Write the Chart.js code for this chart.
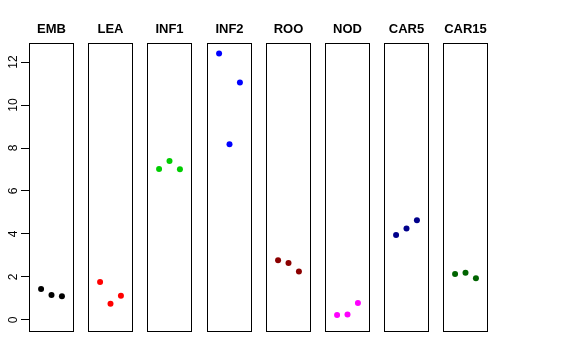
<!DOCTYPE html>
<html>
<head>
<meta charset="utf-8">
<script src="https://cdn.jsdelivr.net/npm/chart.js@4.4.0/dist/chart.umd.min.js"></script>
<style>
html,body{margin:0;padding:0;background:#fff;}
#wrap{position:relative;width:576px;height:360px;overflow:hidden;background:#fff;}
#wrap canvas{position:absolute;top:0;}
</style>
</head>
<body>
<div id="wrap"></div>
<script>
// ---- data ----
const categories = ["EMB", "LEA", "INF1", "INF2", "ROO", "NOD", "CAR5", "CAR15"];
const xPositions = [1, 2, 3];
const valuesEMB   = [1.44, 1.16, 1.10];
const valuesLEA   = [1.77, 0.76, 1.13];
const valuesINF1  = [7.02, 7.40, 7.01];
const valuesINF2  = [12.39, 8.17, 11.05];
const valuesROO   = [2.78, 2.65, 2.25];
const valuesNOD   = [0.23, 0.25, 0.79];
const valuesCAR5  = [3.95, 4.25, 4.64];
const valuesCAR15 = [2.14, 2.20, 1.94];
const yTickValues = [0, 2, 4, 6, 8, 10, 12];
const seriesColors = ["#000000", "#FF0000", "#00CD00", "#0000FF", "#8B0000", "#FF00FF", "#00008B", "#006400"];

const allValues = [valuesEMB, valuesLEA, valuesINF1, valuesINF2, valuesROO, valuesNOD, valuesCAR5, valuesCAR15];

const FONT = "'Liberation Sans', Arial, Helvetica, sans-serif";
const Y_MIN = -0.512, Y_MAX = 12.884;
const X_MIN = -0.16, X_MAX = 4.16;

const framePlugin = {
  id: 'frame',
  afterDatasetsDraw(chart) {
    const a = chart.chartArea;
    const ctx = chart.ctx;
    ctx.save();
    ctx.strokeStyle = '#000';
    ctx.lineWidth = 1;
    ctx.strokeRect(Math.round(a.left) + 0.5, Math.round(a.top) + 0.5,
                   Math.round(a.right - a.left) - 1, Math.round(a.bottom - a.top));
    ctx.restore();
  }
};

const wrap = document.getElementById('wrap');
const AXIS_W = 29, PANEL_W = 45, STEP = 59.2, PANEL0 = 29;

categories.forEach((cat, i) => {
  const first = i === 0;
  const canvas = document.createElement('canvas');
  const w = first ? (AXIS_W + PANEL_W) : PANEL_W;
  const left = first ? 0 : Math.round(PANEL0 + STEP * i);
  canvas.width = w; canvas.height = 360;
  canvas.style.width = w + 'px'; canvas.style.height = '360px';
  canvas.style.left = left + 'px';
  wrap.appendChild(canvas);

  new Chart(canvas, {
    type: 'scatter',
    data: {
      datasets: [{
        data: xPositions.map((x, k) => ({ x: x, y: allValues[i][k] })),
        backgroundColor: seriesColors[i],
        borderWidth: 0,
        pointRadius: 3,
        pointHoverRadius: 3
      }]
    },
    options: {
      responsive: false,
      animation: false,
      devicePixelRatio: 1,
      layout: { autoPadding: false, padding: { top: 0, bottom: 29, left: 0, right: 0 } },
      plugins: {
        legend: { display: false },
        tooltip: { enabled: false },
        title: {
          display: true,
          fullSize: false,
          text: cat,
          color: '#000',
          font: { family: FONT, size: 13, weight: 'bold', lineHeight: 1.2 },
          padding: { top: 21.5, bottom: 5.9 }
        }
      },
      scales: {
        x: {
          type: 'linear', min: X_MIN, max: X_MAX, display: false
        },
        y: {
          type: 'linear', min: Y_MIN, max: Y_MAX,
          display: first,
          position: 'left',
          afterFit(scale) { if (first) scale.width = AXIS_W; },
          afterBuildTicks(scale) { scale.ticks = yTickValues.map(v => ({ value: v })); },
          border: { display: false },
          grid: {
            display: true, drawOnChartArea: false, drawTicks: true,
            tickLength: 8, color: '#000', lineWidth: 1
          },
          ticks: {
            color: '#000',
            font: { family: FONT, size: 12 },
            minRotation: 90, maxRotation: 90,
            crossAlign: 'center',
            padding: 1,
            includeBounds: false
          }
        }
      }
    },
    plugins: [framePlugin]
  });
});
</script>
</body>
</html>
